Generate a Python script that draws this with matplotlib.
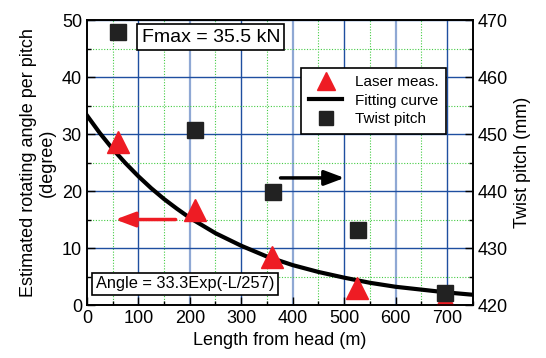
import numpy as np
import matplotlib.pyplot as plt
from matplotlib.ticker import MultipleLocator

plt.rcParams['font.family'] = ['Liberation Sans', 'DejaVu Sans']

# laser measurement (rotating angle, left axis)
laser_L = [60, 210, 360, 525, 695]
laser_angle = [28.6, 16.7, 8.4, 3.0, 0.8]

# twist pitch (right axis)
pitch_L = [60, 210, 362, 527, 695]
pitch_mm = [467.9, 450.7, 439.8, 433.1, 422.1]

# fitting curve
fit_L = [0, 25, 50, 75, 100, 125, 150, 175, 200, 250, 300, 350, 400, 450, 500,
         550, 600, 650, 700, 750]
fit_angle = [33.3, 30.2, 27.4, 24.9, 22.6, 20.5, 18.6, 16.9, 15.3, 12.6, 10.4,
             8.5, 7.0, 5.8, 4.8, 3.9, 3.2, 2.7, 2.2, 1.8]

red = "#ee1c24"
blue = "#1f4fa0"

fig = plt.figure(figsize=(5.46, 3.58), dpi=100)
ax = fig.add_axes([0.159, 0.148, 0.707, 0.796])
ax2 = ax.twinx()

ax.set_xlim(0, 750)
ax.set_ylim(0, 50)
ax2.set_ylim(420, 470)
ax.xaxis.set_major_locator(MultipleLocator(100))
ax.xaxis.set_minor_locator(MultipleLocator(50))
ax.yaxis.set_major_locator(MultipleLocator(10))
ax.yaxis.set_minor_locator(MultipleLocator(5))
ax2.yaxis.set_major_locator(MultipleLocator(10))
ax2.yaxis.set_minor_locator(MultipleLocator(5))

# grid
ax.grid(which="minor", color="#44cc44", linestyle=(0, (1, 1.5)), linewidth=0.8)
ax.grid(which="major", axis="y", color=blue, linewidth=1.0)
for xv in range(100, 750, 100):
    if xv % 200 == 0:
        ax.axvline(xv, color="#8fa8d4", linewidth=1.6, zorder=0.5)
    else:
        ax.axvline(xv, color=blue, linewidth=1.0, zorder=0.5)
ax.set_axisbelow(True)

for a in (ax, ax2):
    a.tick_params(which="both", direction="in", labelsize=13, width=1.0)
    a.tick_params(which="major", length=6)
    a.tick_params(which="minor", length=3)
    for s in a.spines.values():
        s.set_linewidth(1.2)

ln, = ax.plot(fit_L, fit_angle, color="black", linewidth=3, zorder=3, label="Fitting curve")
tri, = ax.plot(laser_L, laser_angle, linestyle="none", marker="^", markersize=16,
               color=red, zorder=4, label="Laser meas.")
sq, = ax2.plot(pitch_L, pitch_mm, linestyle="none", marker="s", markersize=12,
               color="#222222", zorder=5, label="Twist pitch")

ax.annotate("", xy=(50, 15), xytext=(178, 15),
            arrowprops=dict(arrowstyle="-|>,head_length=1.2,head_width=0.45", color=red, lw=2.5))
ax2.annotate("", xy=(506, 442.3), xytext=(371, 442.3),
             arrowprops=dict(arrowstyle="-|>,head_length=1.2,head_width=0.45", color="black", lw=2.5))

ax.text(241, 47, "Fmax = 35.5 kN", fontsize=14, ha="center", va="center", zorder=6,
        bbox=dict(boxstyle="square,pad=0.22", facecolor="white", edgecolor="black", linewidth=1.2))
ax.text(18, 3.7, "Angle = 33.3Exp(-L/257)", fontsize=11.8, ha="left", va="center", zorder=6,
        bbox=dict(boxstyle="square,pad=0.22", facecolor="white", edgecolor="black", linewidth=1.2))

leg = ax2.legend([tri, ln, sq], ["Laser meas.", "Fitting curve", "Twist pitch"],
                 loc="upper right", bbox_to_anchor=(0.95, 0.86), fontsize=11,
                 fancybox=False, framealpha=1, edgecolor="black", markerscale=0.85,
                 handlelength=2.2, borderpad=0.5, labelspacing=0.3)
leg.get_frame().set_linewidth(1.2)
leg.set_zorder(10)

ax.set_xlabel("Length from head (m)", fontsize=13)
ax.set_ylabel("Estimated rotating angle per pitch\n(degree)", fontsize=13)
ax2.set_ylabel("Twist pitch (mm)", fontsize=13)

fig.savefig("out.png", dpi=100)
